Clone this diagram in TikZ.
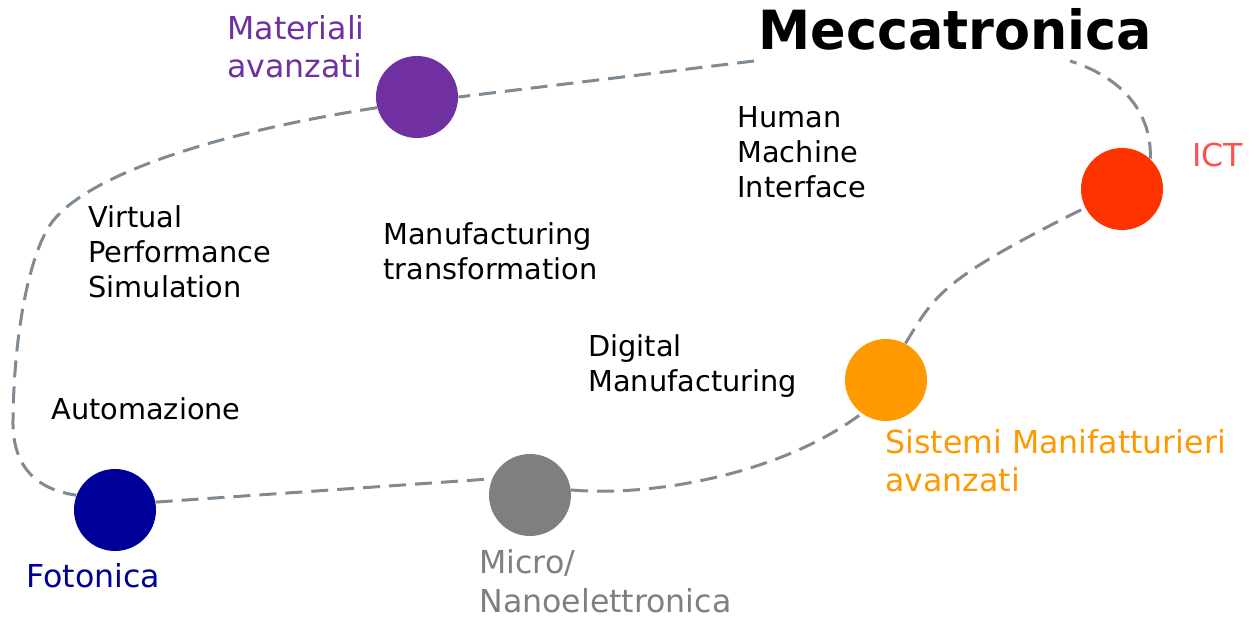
\documentclass[tikz,border=0pt]{standalone}
\usepackage{fontspec}
\setmainfont{DejaVu Sans}
\newfontfamily\titlefont[FakeStretch=0.97]{DejaVu Sans}

\definecolor{viola}{HTML}{7030A0}
\definecolor{rosso}{HTML}{FF3300}
\definecolor{rossotesto}{HTML}{FF5050}
\definecolor{arancio}{HTML}{FF9900}
\definecolor{grigio}{HTML}{7F7F7F}
\definecolor{blu}{HTML}{000099}
\definecolor{traccia}{HTML}{808A92}

\begin{document}
\begin{tikzpicture}[x=0.5pt, y=-0.5pt,
            area/.style={circle, minimum size=41pt, inner sep=0pt},
            tema/.style={anchor=base west, align=left, inner sep=0pt,
                font=\fontsize{14.4}{17.5}\selectfont},
            settore/.style={anchor=base west, align=left, inner sep=0pt,
                font=\fontsize{15.8}{19.3}\selectfont},
            percorso/.style={draw=traccia, line width=1.5pt,
                dash pattern=on 8.5pt off 4.5pt}]

            \useasboundingbox (0,0) rectangle (1252,619);

            \node[anchor=base west, inner sep=0pt,
                font=\titlefont\bfseries\fontsize{27}{32}\selectfont]
                (titolo) at (758,50) {Meccatronica};
            \coordinate (titoloA) at (754,61);
            \coordinate (titoloB) at (1070,61);

            \node[area, fill=viola] (materiali) at (417,97) {};
            \node[area, fill=rosso] (ict) at (1122,189) {};
            \node[area, fill=arancio] (sistemi) at (886,380) {};
            \node[area, fill=grigio] (micro) at (530,495) {};
            \node[area, fill=blu] (fotonica) at (115,510) {};

            \node[settore, text=viola] (lmateriali) at (227,78) {Materiali\\avanzati};
            \node[settore, text=rossotesto] (lict) at (1192,167) {ICT};
            \node[settore, text=arancio] (lsistemi) at (885,492) {Sistemi Manifatturieri\\avanzati};
            \node[settore, text=grigio] (lmicro) at (479,612) {Micro/\\Nanoelettronica};
            \node[settore, text=blu] (lfotonica) at (26,588) {Fotonica};

            \node[tema] (hmi) at (737,198) {Human\\Machine\\Interface};
            \node[tema] (vps) at (88,298) {Virtual\\Performance\\Simulation};
            \node[tema] (mt) at (383,280) {Manufacturing\\transformation};
            \node[tema] (dm) at (588,392) {Digital\\Manufacturing};
            \node[tema] (auto) at (51,420) {Automazione};

            \draw[percorso] (titoloA) -- (materiali.east);
            \draw[percorso] (materiali.195)
            .. controls (200,135) and (80,180) .. (50,225)
            .. controls (30,255) and (14,330) .. (13,420)
            .. controls (12,470) and (40,490) .. (fotonica.159);
            \draw[percorso] (fotonica.11) -- (micro.157);
            \draw[percorso] (micro.7)
            .. controls (650,497) and (780,475) .. (sistemi.234);
            \draw[percorso] (sistemi.62)
            .. controls (935,295) and (940,280) .. (ict.207);
            \draw[percorso] (ict.47)
            .. controls (1152,120) and (1130,80) .. (titoloB);
        \end{tikzpicture}
\end{document}
